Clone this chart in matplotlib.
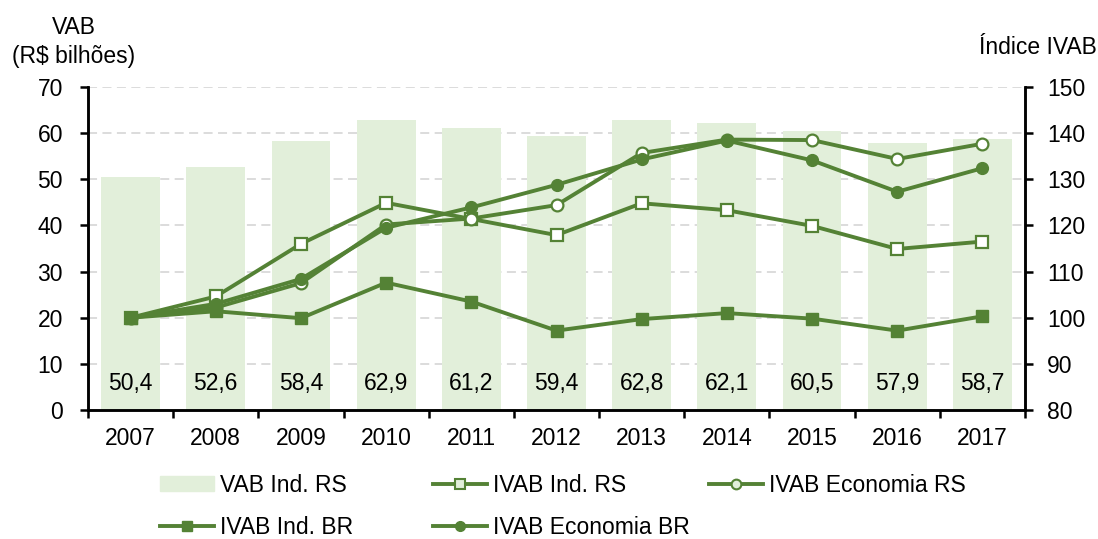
import matplotlib
matplotlib.use("Agg")
import matplotlib.pyplot as plt
from matplotlib.lines import Line2D
from matplotlib.patches import Patch
import numpy as np

plt.rcParams['font.family'] = ['Liberation Sans', 'DejaVu Sans']

anos = ['2007', '2008', '2009', '2010', '2011', '2012', '2013', '2014', '2015', '2016', '2017']
vab_ind_rs = [50.4, 52.6, 58.4, 62.9, 61.2, 59.4, 62.8, 62.1, 60.5, 57.9, 58.7]
vab_rotulos = ['50,4', '52,6', '58,4', '62,9', '61,2', '59,4', '62,8', '62,1', '60,5', '57,9', '58,7']
ivab_ind_rs = [100, 104.6, 116.0, 124.9, 121.4, 117.9, 124.8, 123.3, 119.9, 114.9, 116.5]
ivab_eco_rs = [100, 102.2, 107.5, 120.2, 121.5, 124.4, 135.7, 138.6, 138.5, 134.4, 137.7]
ivab_ind_br = [100, 101.4, 99.9, 107.6, 103.5, 97.2, 99.7, 101.0, 99.8, 97.2, 100.3]
ivab_eco_br = [100, 103.0, 108.4, 119.5, 123.9, 128.8, 134.3, 138.4, 134.1, 127.3, 132.4]

verde = '#548235'
verde_claro = '#E2EFDA'
fs = 16.5

fig = plt.figure(figsize=(10.98, 5.39), dpi=100)
ax = fig.add_axes([88 / 1098, 1 - 410 / 539, (1025 - 88) / 1098, (410 - 87) / 539])
x = np.arange(len(anos))

ax.bar(x, vab_ind_rs, width=0.69, color=verde_claro, zorder=2)
for xi, r in zip(x, vab_rotulos):
    ax.text(xi, 5.8, r, ha='center', va='center', fontsize=fs, color='black', zorder=3)

ax.set_xlim(-0.5, len(anos) - 0.5)
ax.set_ylim(0, 70)
ax.set_yticks(np.arange(0, 71, 10))
ax.yaxis.grid(True, color='#d9d9d9', linestyle=(0, (5, 3)), linewidth=1.3)
ax.set_axisbelow(True)
ax.set_xticks(x)
ax.set_xticklabels(anos)
ax.set_xticks(np.arange(-0.5, len(anos), 1), minor=True)
ax.tick_params(axis='x', which='major', length=0, pad=12, labelsize=fs)
ax.tick_params(axis='x', which='minor', length=6, width=1.8, direction='out')
ax.tick_params(axis='y', length=6, width=1.8, direction='out', pad=12, labelsize=fs)
for s in ['left', 'right', 'bottom']:
    ax.spines[s].set_linewidth(1.8)
ax.spines['top'].set_visible(False)

ax2 = ax.twinx()
ax2.set_ylim(80, 150)
ax2.set_yticks(np.arange(80, 151, 10))
ax2.tick_params(axis='y', length=6, width=1.8, direction='out', pad=10, labelsize=fs)
for s in ['left', 'right', 'bottom']:
    ax2.spines[s].set_linewidth(1.8)
ax2.spines['top'].set_visible(False)

lw = 2.8
ax2.plot(x, ivab_ind_rs, '-s', color=verde, lw=lw, ms=8.5, mfc='white', mec=verde, mew=1.6, zorder=4)
ax2.plot(x, ivab_eco_rs, '-o', color=verde, lw=lw, ms=8.5, mfc='white', mec=verde, mew=1.6, zorder=4)
ax2.plot(x, ivab_ind_br, '-s', color=verde, lw=lw, ms=8.5, mfc=verde, mec=verde, zorder=5)
ax2.plot(x, ivab_eco_br, '-o', color=verde, lw=lw, ms=8.5, mfc=verde, mec=verde, zorder=5)

fig.text(74 / 1098, 1 - 42 / 539, 'VAB\n(R$ bilhões)', ha='center', va='center',
         fontsize=fs, linespacing=1.3)
fig.text(1097 / 1098, 1 - 47 / 539, 'Índice IVAB', ha='right', va='center', fontsize=fs)

# legenda montada item a item, colunas de largura fixa como no original
itens = [
    (Patch(color=verde_claro), 'VAB Ind. RS', 160, 485),
    (Line2D([], [], color=verde, lw=lw, marker='s', ms=7, mfc=verde_claro, mec=verde, mew=1.5), 'IVAB Ind. RS', 433, 485),
    (Line2D([], [], color=verde, lw=lw, marker='o', ms=7, mfc=verde_claro, mec=verde, mew=1.5), 'IVAB Economia RS', 709, 485),
    (Line2D([], [], color=verde, lw=lw, marker='s', ms=7, mfc=verde, mec=verde), 'IVAB Ind. BR', 160, 527),
    (Line2D([], [], color=verde, lw=lw, marker='o', ms=7, mfc=verde, mec=verde), 'IVAB Economia BR', 433, 527),
]
for h, lab, px, py in itens:
    fig.legend(handles=[h], labels=[lab], loc='center left',
               bbox_to_anchor=(px / 1098, 1 - py / 539), frameon=False,
               fontsize=fs, handlelength=2.35, handleheight=0.65, handletextpad=0.25,
               borderpad=0, borderaxespad=0)

fig.savefig('out.png', dpi=100)
